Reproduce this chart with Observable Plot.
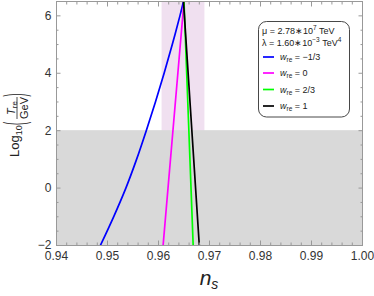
<!DOCTYPE html>
<html><head><meta charset="utf-8">
<script src="https://cdn.jsdelivr.net/npm/d3@7"></script>
<script src="https://cdn.jsdelivr.net/npm/@observablehq/plot@0.6"></script>
<style>
body{margin:0;background:#fff;}
#chart svg{display:block;}
</style>
</head><body><div id="chart"></div>
<script>
// ---- data ----
const seriesLabels = ["\u22121/3", "0", "2/3", "1"];
const seriesColors = ["#0000ff", "#ff00ff", "#00ff00", "#000000"];
const blueNs = [0.9486, 0.9512, 0.9536, 0.9557, 0.9576, 0.9594, 0.9611, 0.9627, 0.9642, 0.9649];
const blueLogT = [-2, -1, 0, 1, 2, 3, 4, 5, 6, 6.5];
const magentaNs = [0.9609, 0.9650];
const magentaLogT = [-2, 6.5];
const greenNs = [0.9668, 0.9650];
const greenLogT = [-2, 6.5];
const blackNs = [0.9680, 0.9649];
const blackLogT = [-2, 6.5];
const planckBand = [0.9607, 0.9691];
const bbnLimit = 2;
const xTicks = [0.94, 0.95, 0.96, 0.97, 0.98, 0.99, 1.00];
const xTickLabels = ["0.94", "0.95", "0.96", "0.97", "0.98", "0.99", "1.00"];
const yTicks = [-2, 0, 2, 4, 6];
const yTickLabels = ["\u22122", "0", "2", "4", "6"];
const xDomain = [0.94, 1.00];
const yDomain = [-2, 6.5];
const paramLines = [
  {base: "\u03bc = 2.78\u221710", sup: "7", tail: " TeV", sup2: ""},
  {base: "\u03bb = 1.60\u221710", sup: "\u22123", tail: " TeV", sup2: "4"}
];

// ---- build tables ----
const seriesNs = [blueNs, magentaNs, greenNs, blackNs];
const seriesLogT = [blueLogT, magentaLogT, greenLogT, blackLogT];
const lineData = seriesNs.map((xs, i) => xs.map((x, j) => ({x, y: seriesLogT[i][j]})));
const xMinor = d3.range(0, 31).map(i => +(0.94 + i * 0.002).toFixed(4)).filter(v => !xTicks.some(t => Math.abs(t - v) < 1e-6));
const yMinor = d3.range(-2, 6.51, 0.5).filter(v => !yTicks.includes(v));

const frameColor = "#999999";
const font = "Liberation Sans, Arial, sans-serif";

const plot = Plot.plot({
  width: 374, height: 296,
  marginLeft: 56, marginRight: 12, marginTop: 1, marginBottom: 51,
  x: {domain: xDomain},
  y: {domain: yDomain},
  style: {fontFamily: font, background: "#fff"},
  marks: [
    Plot.rect([planckBand], {x1: d => d[0], x2: d => d[1], y1: yDomain[0], y2: yDomain[1], fill: "#f0e0f0"}),
    Plot.rect([bbnLimit], {x1: xDomain[0], x2: xDomain[1], y1: yDomain[0], y2: d => d, fill: "#d9d9d9"}),
    ...lineData.map((d, i) => Plot.line(d, {x: "x", y: "y", stroke: seriesColors[i], strokeWidth: 1.7, curve: "catmull-rom", clip: true})),
    Plot.frame({stroke: frameColor, strokeWidth: 1}),
    // major ticks (inward)
    Plot.axisX(xTicks, {anchor: "bottom", tickSize: -4.5, tickFormat: () => "", stroke: frameColor, label: null}),
    Plot.axisX(xTicks, {anchor: "top", tickSize: -4.5, tickFormat: () => "", stroke: frameColor, label: null}),
    Plot.axisY(yTicks, {anchor: "left", tickSize: -4.5, tickFormat: () => "", stroke: frameColor, label: null}),
    Plot.axisY(yTicks, {anchor: "right", tickSize: -4.5, tickFormat: () => "", stroke: frameColor, label: null}),
    // minor ticks
    Plot.axisX(xMinor, {anchor: "bottom", tickSize: -2.5, tickFormat: () => "", stroke: frameColor, label: null}),
    Plot.axisX(xMinor, {anchor: "top", tickSize: -2.5, tickFormat: () => "", stroke: frameColor, label: null}),
    Plot.axisY(yMinor, {anchor: "left", tickSize: -2.5, tickFormat: () => "", stroke: frameColor, label: null}),
    Plot.axisY(yMinor, {anchor: "right", tickSize: -2.5, tickFormat: () => "", stroke: frameColor, label: null}),
    // tick labels
    Plot.axisX(xTicks, {anchor: "bottom", tickSize: 0, tickPadding: 6, tickFormat: (d, i) => xTickLabels[i], fontSize: 12, fill: "#333", label: null}),
    Plot.axisY(yTicks, {anchor: "left", tickSize: 0, tickPadding: 5, tickFormat: (d, i) => yTickLabels[i], fontSize: 12, fill: "#333", label: null})
  ]
});
document.getElementById("chart").appendChild(plot);

const svg = d3.select(plot);

// x label
const xl = svg.append("text").attr("x", 209).attr("y", 285).attr("text-anchor", "middle")
  .attr("font-family", font).attr("fill", "#222");
xl.append("tspan").attr("font-size", 21).attr("font-style", "italic").text("n");
xl.append("tspan").attr("font-size", 14).attr("font-style", "italic").attr("dy", 4).text("s");

// y label (rotated)
const yl = svg.append("g").attr("transform", "translate(0,157) rotate(-90)")
  .attr("font-family", font).attr("fill", "#222").attr("text-anchor", "start");
const logT = yl.append("text").attr("x", 0).attr("y", 18.5).attr("font-size", 13).attr("text-anchor", "start");
logT.append("tspan").text("Log");
logT.append("tspan").attr("font-size", 9).attr("dy", 3).text("10");
yl.append("text").attr("transform", "translate(32,24.5) scale(0.7,2.2)").attr("font-size", 13).attr("text-anchor", "start").text("(");
const tre = yl.append("text").attr("x", 49).attr("y", 14.5).attr("text-anchor", "middle").attr("font-size", 11);
tre.append("tspan").attr("font-style", "italic").text("T");
tre.append("tspan").attr("font-size", 8).attr("dy", 2).text("re");
yl.append("line").attr("x1", 38).attr("x2", 60).attr("y1", 17).attr("y2", 17).attr("stroke", "#222").attr("stroke-width", 0.8);
yl.append("text").attr("x", 49).attr("y", 27.5).attr("text-anchor", "middle").attr("font-size", 11).text("GeV");
yl.append("text").attr("transform", "translate(60.5,24.5) scale(0.7,2.2)").attr("font-size", 13).attr("text-anchor", "start").text(")");

// legend
const lg = svg.append("g").attr("font-family", font).attr("fill", "#222").attr("text-anchor", "start");
lg.append("rect").attr("x", 258.5).attr("y", 21.5).attr("width", 91).attr("height", 95.5)
  .attr("rx", 8).attr("fill", "#fff").attr("stroke", "#333").attr("stroke-width", 0.9);
paramLines.forEach((p, i) => {
  const t = lg.append("text").attr("x", 262).attr("y", 33.5 + i * 12).attr("font-size", 9).attr("text-anchor", "start");
  t.append("tspan").text(p.base);
  t.append("tspan").attr("font-size", 6.5).attr("dy", -3.5).text(p.sup);
  t.append("tspan").attr("dy", 3.5).text(p.tail);
  if (p.sup2) t.append("tspan").attr("font-size", 6.5).attr("dy", -3.5).text(p.sup2);
});
const itemY = [57, 73, 89.5, 106];
seriesLabels.forEach((lab, i) => {
  lg.append("line").attr("x1", 263).attr("x2", 274).attr("y1", itemY[i]).attr("y2", itemY[i])
    .attr("stroke", seriesColors[i]).attr("stroke-width", 1.7);
  const t = lg.append("text").attr("x", 280).attr("y", itemY[i] + 3.2).attr("font-size", 9).attr("text-anchor", "start");
  t.append("tspan").attr("font-style", "italic").text("w");
  t.append("tspan").attr("font-size", 6.5).attr("dy", 2).text("re");
  t.append("tspan").attr("dy", -2).text(" = " + lab);
});
</script>
</body></html>
